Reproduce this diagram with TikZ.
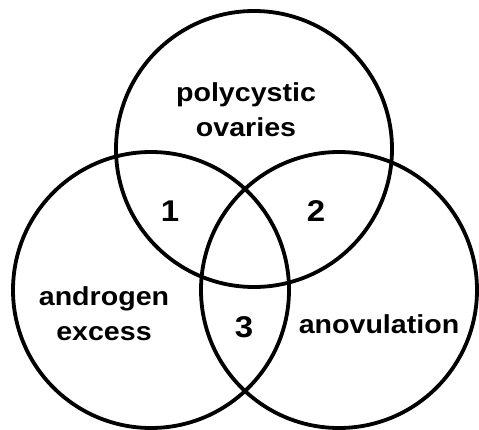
\documentclass[tikz,border=0pt]{standalone}
\usepackage{fontspec}
\setmainfont{Liberation Sans}[FakeStretch=1.1]
\begin{document}
\begin{tikzpicture}[x=1pt,y=-1pt,
  setc/.style={circle, draw=black, line width=3.8pt, minimum size=276pt, inner sep=0pt},
  lbl/.style={inner sep=0pt, anchor=base, align=center, font=\fontsize{26}{35}\selectfont\bfseries},
  num/.style={inner sep=0pt, anchor=base, font=\fontsize{30}{35}\selectfont\bfseries}]
\useasboundingbox (0,0) rectangle (479,430);
\fill[white] (0,0) rectangle (479,430);
\node[setc] (pco) at (254,149) {};
\node[setc] (ae) at (151,290) {};
\node[setc] (an) at (339,290) {};
\node[lbl] (tpco) at (246,137) {polycystic\\ovaries};
\node[lbl] (tae) at (104,340) {androgen\\excess};
\node[lbl] (tan) at (379,333) {anovulation};
\node[num] (n1) at (170,222) {1};
\node[num] (n2) at (316,222) {2};
\node[num] (n3) at (244,337) {3};
\end{tikzpicture}
\end{document}
